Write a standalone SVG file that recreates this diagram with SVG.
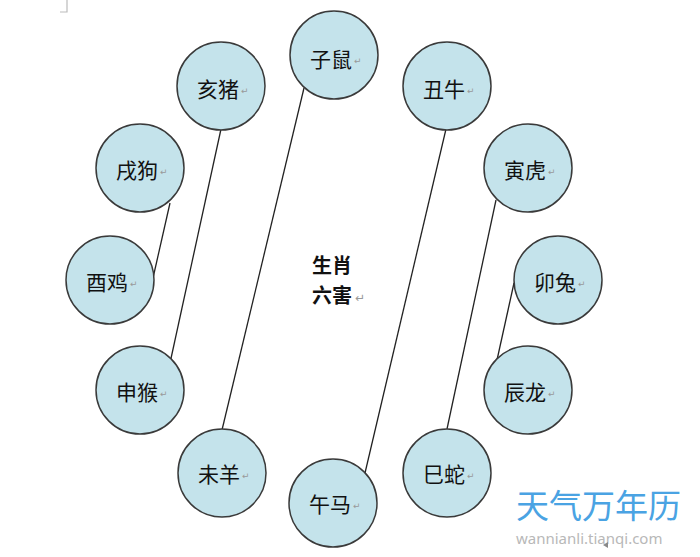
<svg xmlns="http://www.w3.org/2000/svg" width="700" height="557" viewBox="0 0 700 557">
<style>
.node circle{fill:#c4e3eb;stroke:#3a3a3a;stroke-width:1.5}
.lbl{font-family:"Noto Sans CJK SC","Noto Sans CJK JP",sans-serif;font-size:21px;fill:#111;text-anchor:middle;dominant-baseline:central}
.mk{font-family:"DejaVu Sans",sans-serif;font-size:9px;fill:#999;dominant-baseline:central}
.ctr{font-family:"Noto Sans CJK SC",sans-serif;font-size:20px;font-weight:bold;fill:#111}
.links line{stroke:#222;stroke-width:1.3}
</style>
<rect width="700" height="557" fill="#fff"/>
<path d="M60 12H67V0" fill="none" stroke="#bbb" stroke-width="1.2"/>
<g class="links">
<line x1="304" y1="88" x2="222" y2="430"/>
<line x1="221" y1="129" x2="170" y2="363"/>
<line x1="170" y1="203" x2="153" y2="278"/>
<line x1="446" y1="129" x2="365" y2="473"/>
<line x1="496" y1="200" x2="447" y2="429"/>
<line x1="514" y1="283" x2="497" y2="360"/>
</g>
<g id="n-zishu" class="node"><circle cx="334" cy="55" r="44"/><text class="lbl" x="331" y="58">子鼠</text><text class="mk" x="354" y="61">↵</text></g>
<g id="n-chouniu" class="node"><circle cx="447" cy="86" r="44"/><text class="lbl" x="444" y="88">丑牛</text><text class="mk" x="467" y="91">↵</text></g>
<g id="n-yinhu" class="node"><circle cx="528" cy="168" r="44"/><text class="lbl" x="525" y="169">寅虎</text><text class="mk" x="548" y="172">↵</text></g>
<g id="n-maotu" class="node"><circle cx="558" cy="280" r="44"/><text class="lbl" x="555" y="281">卯兔</text><text class="mk" x="578" y="284">↵</text></g>
<g id="n-chenlong" class="node"><circle cx="528" cy="390" r="44"/><text class="lbl" x="525" y="391">辰龙</text><text class="mk" x="548" y="394">↵</text></g>
<g id="n-sishe" class="node"><circle cx="447" cy="473" r="44"/><text class="lbl" x="444" y="473">巳蛇</text><text class="mk" x="467" y="476">↵</text></g>
<g id="n-wuma" class="node"><circle cx="333" cy="503" r="44"/><text class="lbl" x="330" y="503">午马</text><text class="mk" x="353" y="506">↵</text></g>
<g id="n-weiyang" class="node"><circle cx="222" cy="473" r="44"/><text class="lbl" x="219" y="473">未羊</text><text class="mk" x="242" y="476">↵</text></g>
<g id="n-shenhou" class="node"><circle cx="140" cy="390" r="44"/><text class="lbl" x="137" y="391">申猴</text><text class="mk" x="160" y="394">↵</text></g>
<g id="n-youji" class="node"><circle cx="110" cy="280" r="44"/><text class="lbl" x="107" y="281">酉鸡</text><text class="mk" x="130" y="284">↵</text></g>
<g id="n-xugou" class="node"><circle cx="140" cy="168" r="44"/><text class="lbl" x="137" y="169">戌狗</text><text class="mk" x="160" y="172">↵</text></g>
<g id="n-haizhu" class="node"><circle cx="221" cy="86" r="44"/><text class="lbl" x="218" y="88">亥猪</text><text class="mk" x="241" y="91">↵</text></g>
<g id="center">
<text class="ctr" x="312" y="273">生肖</text>
<text class="ctr" x="312" y="303">六害</text>
<text class="mk" x="355" y="298" style="font-size:12px">↵</text>
</g>
<g id="watermark">
<text x="516" y="518" font-family="Noto Sans CJK SC,sans-serif" font-size="33" fill="#4aa3e3">天气万年历</text>
<text x="516" y="544" font-family="Noto Sans,sans-serif" font-size="15" fill="#b8b8b8">wannianli.tianqi.com</text>
<polygon points="603,545 608,542 608,548" fill="#888"/>
</g>
</svg>
